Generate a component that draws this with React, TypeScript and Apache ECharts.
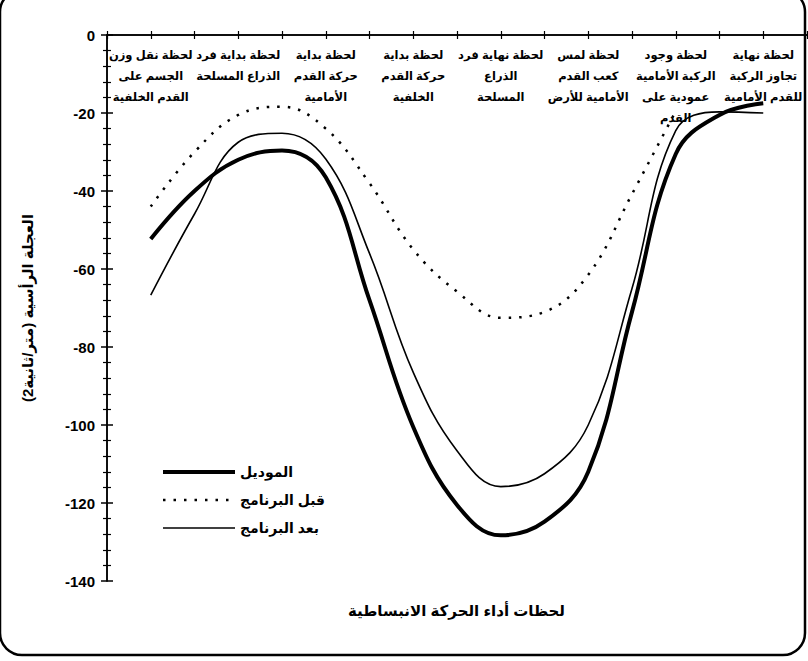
import React, { useEffect, useRef } from "react";
import * as echarts from "echarts";

const categories = [
  "لحظة نقل وزن\nالجسم على\nالقدم الخلفية",
  "لحظة بداية فرد\nالذراع المسلحة",
  "لحظة بداية\nحركة القدم\nالأمامية",
  "لحظة بداية\nحركة القدم\nالخلفية",
  "لحظة نهاية فرد\nالذراع\nالمسلحة",
  "لحظة لمس\nكعب القدم\nالأمامية للأرض",
  "لحظة وجود\nالركبة الأمامية\nعمودية على\nالقدم",
  "لحظة نهاية\nتجاوز الركبة\nللقدم الأمامية",
];

// positions along the category axis (category index units, half steps)
const positions = [0, 0.5, 1, 1.5, 2, 2.5, 3, 3.5, 4, 4.5, 5, 5.5, 6, 6.5, 7];

const modelValues = [-52.3, -40, -32, -29.6, -36.5, -68, -100.5, -120.5, -128.3, -124.8, -112, -71, -30.5, -20.5, -17.5];
const beforeValues = [-44, -30, -20.5, -18.4, -24, -38, -55, -65.8, -72.5, -71, -61.5, -40.8, -19.5];
const afterValues = [-66.7, -45.9, -27.5, -25.2, -31.8, -56, -86.5, -106.6, -115.8, -112.5, -100, -65, -24.5, -19.7, -20];

const seriesNames = ["الموديل", "قبل البرنامج", "بعد البرنامج"];

const yTitle = "العجلة الرأسية (متر/ثانية2)";
const xTitle = "لحظات أداء الحركة الانبساطية";

const FONT = "Arial, 'Liberation Sans', 'DejaVu Sans', sans-serif";

function pairs(vals: number[]) {
  return vals.map((v, i) => [positions[i], v]);
}

export default function App() {
  const ref = useRef<HTMLDivElement>(null);
  useEffect(() => {
    if (!ref.current) return;
    const chart = echarts.init(ref.current, undefined, { renderer: "svg" });
    const tickAxisCommon = {
      axisLine: { show: true, onZero: false, lineStyle: { color: "#000", width: 1.5 } },
      splitLine: { show: false },
    };
    chart.setOption({
      animation: false,
      backgroundColor: "#fff",
      grid: { left: 107, top: 35, right: 1, bottom: 80 },
      xAxis: [
        {
          type: "value",
          position: "top",
          min: -0.5,
          max: 7.5,
          interval: 0.5,
          ...tickAxisCommon,
          axisTick: { show: true, inside: false, length: 4, lineStyle: { color: "#000", width: 1.2 } },
          axisLabel: { show: false },
        },
        {
          type: "value",
          position: "top",
          min: -0.5,
          max: 7.5,
          interval: 0.5,
          ...tickAxisCommon,
          axisTick: { show: true, inside: true, length: 4, lineStyle: { color: "#000", width: 1.2 } },
          axisLabel: { show: false },
        },
        {
          type: "category",
          position: "top",
          data: categories,
          boundaryGap: true,
          axisLine: { show: false, onZero: false },
          axisTick: { show: false },
          splitLine: { show: false },
          axisLabel: {
            show: true,
            inside: true,
            interval: 0,
            margin: 9,
            color: "#000",
            fontFamily: FONT,
            fontWeight: "bold",
            fontSize: 11.5,
            lineHeight: 21,
            align: "center",
          },
        },
      ],
      yAxis: [
        {
          type: "value",
          position: "left",
          min: -140,
          max: 0,
          interval: 20,
          ...tickAxisCommon,
          axisTick: { show: true, inside: false, length: 6, lineStyle: { color: "#000", width: 1.5 } },
          minorTick: { show: true, splitNumber: 5, length: 4, lineStyle: { color: "#000", width: 1.2 } },
          axisLabel: {
            color: "#000",
            fontFamily: FONT,
            fontWeight: "bold",
            fontSize: 15,
            margin: 12,
          },
          name: yTitle,
          nameLocation: "middle",
          nameRotate: 90,
          nameGap: 72,
          nameTextStyle: { color: "#000", fontFamily: FONT, fontWeight: "bold", fontSize: 15 },
        },
        {
          type: "value",
          position: "left",
          min: -140,
          max: 0,
          interval: 20,
          ...tickAxisCommon,
          axisTick: { show: true, inside: true, length: 6, lineStyle: { color: "#000", width: 1.5 } },
          minorTick: { show: true, splitNumber: 5, length: 4, lineStyle: { color: "#000", width: 1.2 } },
          axisLabel: { show: false },
        },
      ],
      legend: {
        show: true,
        orient: "vertical",
        left: 156,
        top: 460,
        itemWidth: 72,
        itemHeight: 12,
        itemGap: 14,
        align: "left",
        itemStyle: { color: "transparent", borderWidth: 0, opacity: 0 },
        textStyle: { color: "#000", fontFamily: FONT, fontWeight: "bold", fontSize: 14 },
        data: [
          { name: seriesNames[0], lineStyle: { width: 4 } },
          { name: seriesNames[1], lineStyle: { width: 2.5 } },
          { name: seriesNames[2], lineStyle: { width: 1.6 } },
        ],
      },
      series: [
        {
          name: seriesNames[0],
          type: "line",
          xAxisIndex: 0,
          yAxisIndex: 0,
          data: pairs(modelValues),
          smooth: 0.4,
          symbol: "none",
          lineStyle: { color: "#000", width: 4 },
          itemStyle: { color: "#000" },
        },
        {
          name: seriesNames[1],
          type: "line",
          xAxisIndex: 0,
          yAxisIndex: 0,
          data: pairs(beforeValues),
          smooth: 0.4,
          symbol: "none",
          lineStyle: { color: "#000", width: 2.5, type: [2.5, 8] },
          itemStyle: { color: "#000" },
        },
        {
          name: seriesNames[2],
          type: "line",
          xAxisIndex: 0,
          yAxisIndex: 0,
          data: pairs(afterValues),
          smooth: 0.4,
          symbol: "none",
          lineStyle: { color: "#000", width: 1.6 },
          itemStyle: { color: "#000" },
        },
      ],
      graphic: [
        {
          type: "text",
          left: 348,
          top: 603,
          style: {
            text: xTitle,
            fill: "#000",
            font: "bold 15px " + FONT,
          },
        },
        {
          type: "rect",
          shape: { x: 0, y: -10, width: 805, height: 665, r: 22 },
          style: { fill: "none", stroke: "#000", lineWidth: 2.5 },
          silent: true,
        },
      ],
    });
    return () => chart.dispose();
  }, []);
  return (
    <div
      ref={ref}
      style={{ position: "fixed", left: 0, top: 0, width: 808, height: 661 }}
    />
  );
}
